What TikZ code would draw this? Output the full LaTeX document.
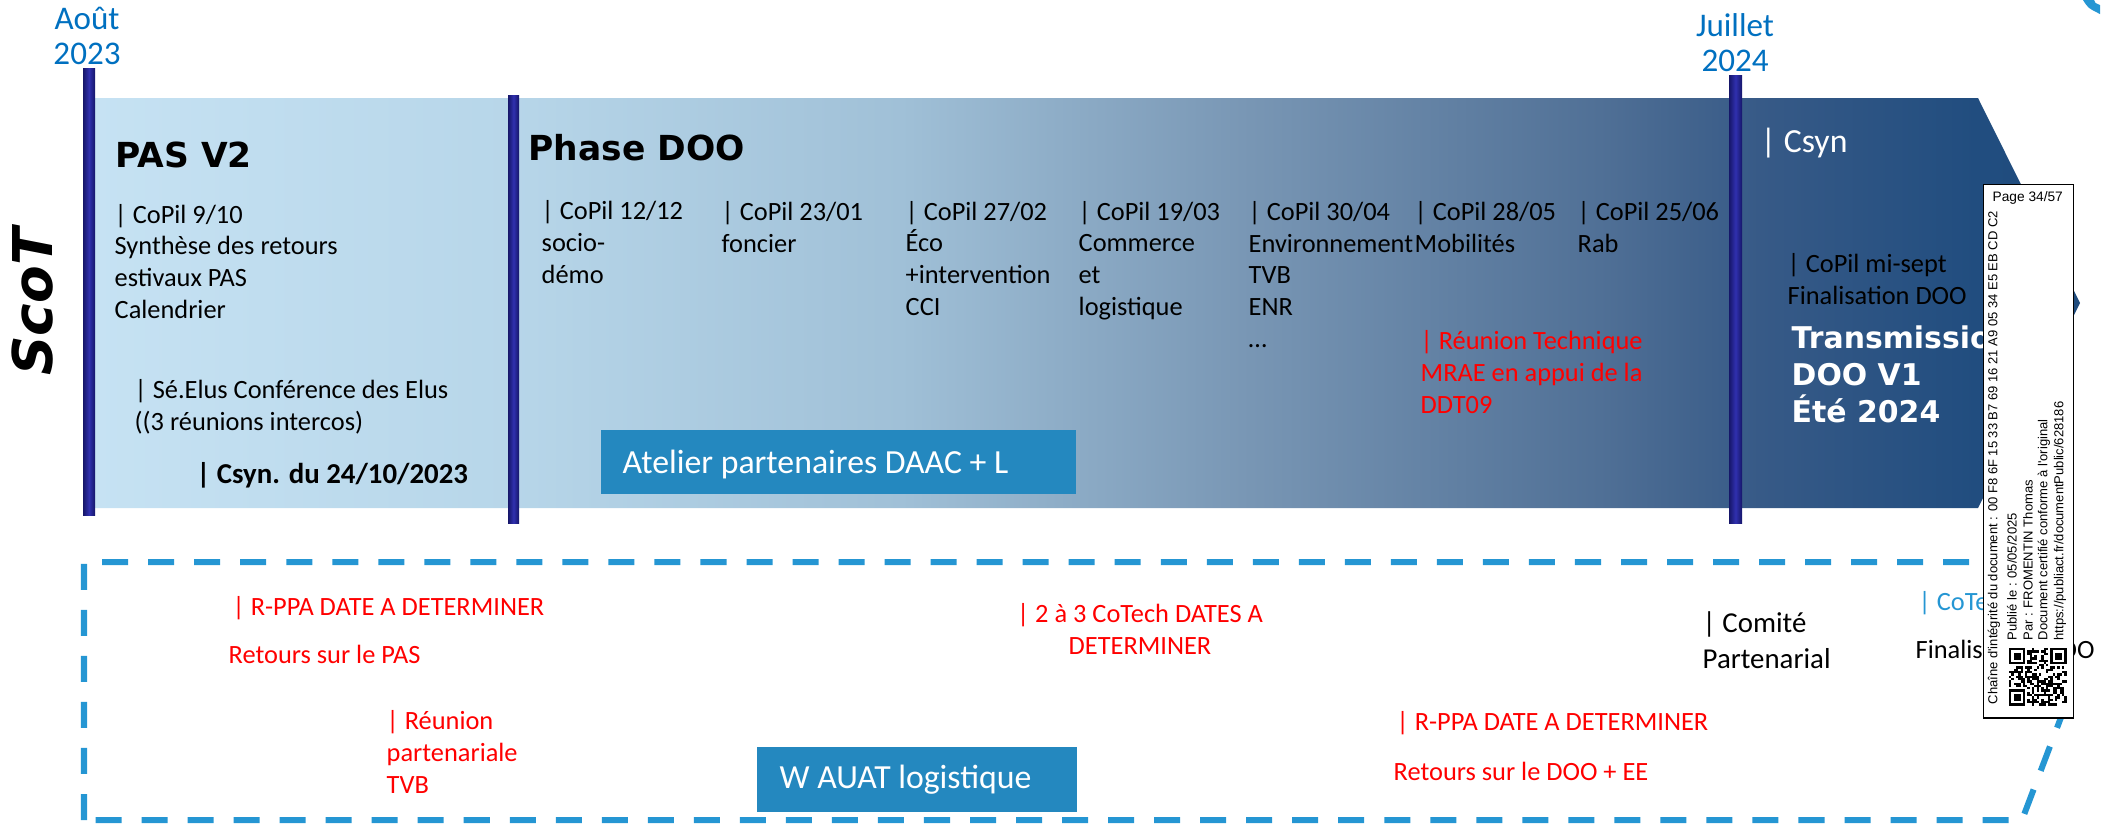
\documentclass[tikz,border=0pt]{standalone}
\usepackage{fontspec}
\setmainfont{Carlito}
\newfontfamily\dejavu{DejaVu Sans}
\newfontfamily\arialf{Liberation Sans}
\definecolor{datblue}{RGB}{0,112,192}
\definecolor{boxblue}{RGB}{36,136,191}
\definecolor{dashblue}{RGB}{37,150,211}
\definecolor{navyD}{RGB}{22,22,105}
\definecolor{navyL}{RGB}{48,48,175}
\definecolor{redt}{RGB}{255,0,0}
\pgfdeclarehorizontalshading{bandshade}{100bp}{rgb(0bp)=(0.776,0.886,0.953); rgb(25bp)=(0.776,0.886,0.953); rgb(35.5bp)=(0.718,0.839,0.914); rgb(45.3bp)=(0.627,0.753,0.843); rgb(54.1bp)=(0.471,0.588,0.706); rgb(62.9bp)=(0.314,0.439,0.588); rgb(66.9bp)=(0.216,0.353,0.529); rgb(72.4bp)=(0.129,0.302,0.498); rgb(75bp)=(0.122,0.294,0.490); rgb(100bp)=(0.122,0.294,0.490)}
\tikzset{
  txt/.style={inner sep=0pt, anchor=base west, align=left, font=\fontsize{7.5}{9}\selectfont},
  redtxt/.style={txt, text=redt},
  datelbl/.style={inner sep=0pt, anchor=base, align=center, text=datblue, font=\fontsize{9.4}{9.7}\selectfont},
  phasettl/.style={inner sep=0pt, anchor=base west, font=\dejavu\bfseries\fontsize{9.8}{11}\selectfont},
  boxtxt/.style={inner sep=0pt, anchor=base west, text=white, font=\fontsize{9.6}{11}\selectfont},
  bluebox/.style={fill=boxblue, draw=none, inner sep=0pt, anchor=north west},
  navybar/.style={left color=navyD, right color=navyD, middle color=navyL},
  dashbox/.style={draw=dashblue, line width=0.06cm, dash pattern=on 0.26cm off 0.2cm},
  stamptxt/.style={inner sep=0pt, font=\arialf\fontsize{3.7}{4.3}\selectfont},
}
\begin{document}
\begin{tikzpicture}[x=0.01cm,y=-0.01cm]
\useasboundingbox (0,0) rectangle (2114,823);
% band
\shade[shading=bandshade] (95,98) -- (1978,98) -- (2080,303) -- (1978,508) -- (95,508) -- cycle;
% bars
\shade[navybar] (83,68) rectangle (95,515);
\shade[navybar] (508,95) rectangle (519,523);
\shade[navybar] (1729,75) rectangle (1742,523);
% top right decoration
\fill[dashblue] (2083,0) .. controls (2088,8) .. (2100,14) -- (2100,5) .. controls (2095,3) .. (2094,0) -- cycle;
% dates (base = last line)
\node[datelbl] (datA) at (87,64) {Août\\2023};
\node[datelbl] (datJ) at (1735,71) {Juillet\\2024};
% ScoT
\node[rotate=90, inner sep=0pt, font=\dejavu\bfseries\itshape\fontsize{15.6}{18}\selectfont] (scot) at (33,302) {ScoT};
% phase titles
\node[phasettl] (pas) at (115,167) {PAS V2};
\node[phasettl] (phase) at (528,160) {Phase DOO};
% PAS column
\node[txt] (cp910) at (114,318) {| CoPil 9/10\\Synthèse des retours\\estivaux PAS\\Calendrier};
\node[txt] (seelus) at (134,430) {| Sé.Elus Conférence des Elus\\((3 réunions intercos)};
\node[txt, font=\bfseries\fontsize{8.2}{9.5}\selectfont] (csynd) at (196,483) {| Csyn. du 24/10/2023};
% CoPil columns
\node[txt] (cp1212) at (541,283) {| CoPil 12/12\\socio-\\démo};
\node[txt] (cp2301) at (721,252) {| CoPil 23/01\\foncier};
\node[txt] (cp2702) at (905,315) {| CoPil 27/02\\Éco\\+intervention\\CCI};
\node[txt] (cp1903) at (1078,315) {| CoPil 19/03\\Commerce\\et\\logistique};
\node[txt] (cp3004) at (1248,347) {| CoPil 30/04\\Environnement\\TVB\\ENR\\…};
\node[txt] (cp2805) at (1414,252) {| CoPil 28/05\\Mobilités};
\node[txt] (cp2506) at (1577,252) {| CoPil 25/06\\Rab};
\node[redtxt] (reutech) at (1420,413) {| Réunion Technique\\MRAE en appui de la\\DDT09};
% after July
\node[txt, text=white, font=\fontsize{9.6}{11}\selectfont] (csyn) at (1760,152) {| Csyn};
\node[txt] (cpms) at (1787,304) {| CoPil mi-sept\\Finalisation DOO};
\node[txt, text=white, font=\dejavu\bfseries\fontsize{8.5}{10.5}\selectfont] (trans) at (1791,422) {Transmission\\DOO V1\\Été 2024};
% Atelier box
\node[bluebox, minimum width=4.75cm, minimum height=0.64cm] (atelierbox) at (600,429) {};
\node[boxtxt] (ateliertxt) at (622,473) {Atelier partenaires DAAC + L};
% dashed zone
\draw[dashbox] (84,820) -- (84,562) -- (2022,562) -- (2071,691) -- (2022,820) -- cycle;
\node[redtxt] (rppa1) at (232,615) {| R-PPA DATE A DETERMINER};
\node[redtxt] (ret1) at (228,663) {Retours sur le PAS};
\node[redtxt] (reupart) at (386,793) {| Réunion\\partenariale\\TVB};
\node[bluebox, minimum width=3.2cm, minimum height=0.65cm] (wauatbox) at (756,746) {};
\node[boxtxt] (wauattxt) at (779,788) {W AUAT logistique};
\node[redtxt, anchor=base, align=center] (cotech) at (1140,654) {| 2 à 3 CoTech DATES A\\DETERMINER};
\node[redtxt] (rppa2) at (1396,730) {| R-PPA DATE A DETERMINER};
\node[redtxt] (ret2) at (1393,780) {Retours sur le DOO + EE};
\node[txt, font=\fontsize{8.2}{10}\selectfont] (comite) at (1702,668) {| Comité\\Partenarial};
\node[txt, text=dashblue] (cotech2) at (1918,610) {| CoTech};
\node[txt] (findoo2) at (1915,658) {Finalisation DOO};
% stamp
\node[draw=black, fill=white, line width=0.012cm, inner sep=0pt, anchor=north west, minimum width=0.9cm, minimum height=5.33cm] (stamp) at (1983,184) {};
\node[stamptxt, anchor=base west, font=\arialf\fontsize{3.9}{4.5}\selectfont] (page) at (1992,201) {Page 34/57};
\node[stamptxt, rotate=90, anchor=west] (chain) at (1994,705) {Chaîne d'intégrité du document : 00 F8 6F 15 33 B7 69 16 21 A9 05 34 E5 EB CD C2};
\node[stamptxt, rotate=90, anchor=west] (publie) at (2012,641) {Publié le : 05/05/2025};
\node[stamptxt, rotate=90, anchor=west] (par) at (2028,641) {Par : FROMENTIN Thomas};
\node[stamptxt, rotate=90, anchor=west] (certif) at (2044,641) {Document certifié conforme à l'original};
\node[stamptxt, rotate=90, anchor=west] (url) at (2060,641) {https://publiact.fr/documentPublic/628186};
% QR code
\pgfmathsetseed{11}
\foreach \qi in {0,...,24}{
  \foreach \qj in {0,...,24}{
    \pgfmathparse{((\qi<8)&&(\qj<8))||((\qi>16)&&(\qj<8))||((\qi<8)&&(\qj>16)) ? 1 : 0}
    \ifnum\pgfmathresult=0
      \pgfmathsetmacro{\qrr}{rnd}
      \ifdim\qrr pt<0.5pt
        \fill[black] ({2009+2.3*\qi},{648+2.3*\qj}) rectangle ({2009+2.3*(\qi+1)},{648+2.3*(\qj+1)});
      \fi
    \fi
  }
}
\foreach \fx/\fy in {0/0,18/0,0/18}{
  \fill[black] ({2009+2.3*\fx},{648+2.3*\fy}) rectangle ({2009+2.3*(\fx+7)},{648+2.3*(\fy+7)});
  \fill[white] ({2009+2.3*(\fx+1)},{648+2.3*(\fy+1)}) rectangle ({2009+2.3*(\fx+6)},{648+2.3*(\fy+6)});
  \fill[black] ({2009+2.3*(\fx+2)},{648+2.3*(\fy+2)}) rectangle ({2009+2.3*(\fx+5)},{648+2.3*(\fy+5)});
}
\end{tikzpicture}
\end{document}
